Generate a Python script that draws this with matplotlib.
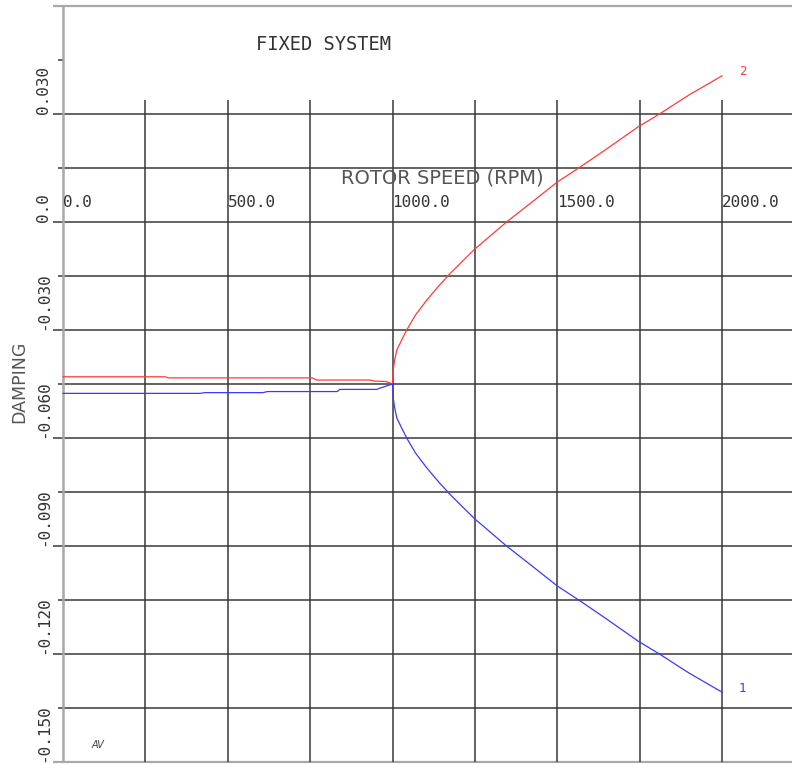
import matplotlib
matplotlib.use("Agg")
import matplotlib.pyplot as plt
import numpy as np

# Damping of the two modes vs rotor speed, fixed-frame system
rpm_2 = [0, 310, 320, 756, 770, 932, 945, 980, 1000,
         1002, 1006, 1013, 1025, 1043, 1070, 1104, 1140, 1174, 1210, 1250, 1300,
         1346, 1420, 1500, 1570, 1650, 1745, 1810, 1900, 2000]
damping_2 = [-0.0430, -0.0430, -0.0433, -0.0433, -0.0439, -0.0439, -0.0442, -0.0443, -0.0450,
             -0.0414, -0.0386, -0.0356, -0.0333, -0.0300, -0.0258, -0.0217, -0.0178,
             -0.0144, -0.0111, -0.0075, -0.0036, 0.0000, 0.0053, 0.0111, 0.0153,
             0.0203, 0.0264, 0.0300, 0.0353, 0.0406]

rpm_1 = [0, 416, 430, 607, 620, 832, 840, 953, 960, 1000,
         1002, 1006, 1013, 1025, 1043, 1070, 1104, 1140, 1174, 1210, 1250, 1300,
         1346, 1420, 1500, 1570, 1650, 1745, 1810, 1900, 2000]
damping_1 = [-0.0476, -0.0476, -0.0474, -0.0474, -0.0471, -0.0471, -0.0465, -0.0465, -0.0462, -0.0450,
             -0.0486, -0.0514, -0.0544, -0.0567, -0.0600, -0.0642, -0.0683, -0.0722,
             -0.0756, -0.0789, -0.0825, -0.0864, -0.0900, -0.0953, -0.1011, -0.1053,
             -0.1103, -0.1164, -0.1200, -0.1253, -0.1306]

x_tick_vals = [0, 500, 1000, 1500, 2000]
x_tick_labels = ["0.0", "500.0", "1000.0", "1500.0", "2000.0"]
y_tick_vals = [0.030, 0.0, -0.030, -0.060, -0.090, -0.120, -0.150]
y_tick_labels = ["0.030", "0.0", "-0.030", "-0.060", "-0.090", "-0.120", "-0.150"]

GRID = "#383838"
FRAME = "#a8a8a8"
MONO = "DejaVu Sans Mono"

fig = plt.figure(figsize=(7.92, 7.64), dpi=100)
ax = fig.add_axes([0, 0, 1, 1])
ax.set_xlim(-191.2, 2212.4)
ax.set_ylim(-0.15056, 0.06167)
ax.axis("off")

x_max = 2212.4
tick_major = -30.0   # stub length left of the y axis, in rpm units
tick_minor = -15.0

# horizontal grid, every 0.015; labelled levels get the longer stub
for i, level in enumerate(np.arange(0.030, -0.136, -0.015)):
    x_start = tick_major if i % 2 == 0 else tick_minor
    ax.hlines(level, x_start, x_max, color=GRID, lw=1.1)
ax.hlines(0.045, tick_minor, 0, color=GRID, lw=1.1)
ax.hlines([0.060, -0.150], tick_major, x_max, color=FRAME, lw=1.6)

# vertical grid, every 250 rpm, stopping short of the title area
ax.vlines(np.arange(250, 2001, 250), -0.150, 0.0339, color=GRID, lw=1.1)
ax.vlines(0, -0.150, 0.060, color=FRAME, lw=1.8)

ax.plot(rpm_2, damping_2, color="#ff3a3a", lw=0.9)
ax.plot(rpm_1, damping_1, color="#3a3aff", lw=0.9)
ax.text(2062, 0.0417, "2", color="#ff3a3a", fontsize=9, family=MONO,
        ha="center", va="center")
ax.text(2062, -0.1297, "1", color="#3a3aff", fontsize=9, family=MONO,
        ha="center", va="center")

for val, lab in zip(x_tick_vals, x_tick_labels):
    ax.text(val, 0.00528, lab, fontsize=11.5, family=MONO, color="#333333",
            ha="left", va="center")
for val, lab in zip(y_tick_vals, y_tick_labels):
    ax.text(-57.7, val, lab, fontsize=11.5, family=MONO, color="#333333",
            rotation=90, ha="center", va="bottom")

ax.text(790.6, 0.04917, "FIXED SYSTEM", fontsize=13.5, family=MONO,
        color="#333333", ha="center", va="center")
ax.text(1151.7, 0.01222, "ROTOR SPEED (RPM)", fontsize=14, color="#555555",
        ha="center", va="center")
ax.text(-133.5, -0.04444, "DAMPING", fontsize=12.5, color="#555555",
        rotation=90, ha="center", va="center")
ax.text(106, -0.14528, "AV", fontsize=7, style="italic", color="#444444",
        ha="center", va="center")

fig.savefig("out.png", dpi=100)
